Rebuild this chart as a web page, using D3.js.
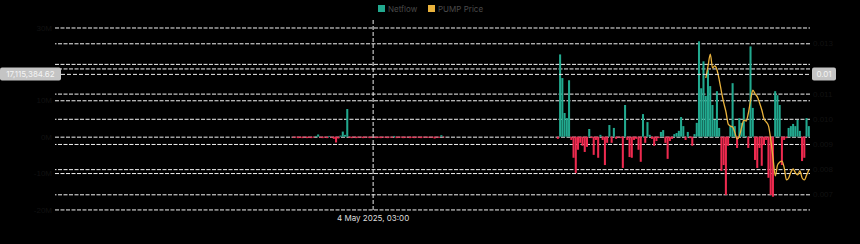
<!DOCTYPE html>
<html>
<head>
<meta charset="utf-8">
<script src="https://cdn.jsdelivr.net/npm/d3@7"></script>
<style>
    body { margin: 0; background: #000; }
    svg { display: block; font-family: Inter, "Noto Sans", sans-serif; }
</style>
</head>
<body>
<svg id="chart" width="860" height="244"></svg>
<script>
// hourly net flow (millions), two stretches of data
const earlyStart = Date.UTC(2025, 4, 2, 15);
const earlyFlow = [
    -0.3, -0.2, -0.4, -0.3, -0.4, -0.2, -0.4, -0.3, -0.4, -0.2,
    0.2, 0.6, -0.3, -0.4, -0.2, -0.4, 0.2, -0.3, -0.6, -1.6,
    -0.5, 0.3, 1.4, 0.5, 7.6, -0.3, -0.4, -0.2, -0.4, -0.3,
    -0.2, -0.4, -0.3, -0.2, -0.4, -0.3, -0.2, -0.4, -0.3, -0.4,
    -0.2, -0.3, -0.4, -0.2, -0.3, 0.2, -0.4, -0.3, -0.2, -0.4,
    -0.3, -0.2, -0.4, -0.3, -0.4, -0.2, -0.3, -0.4, -0.2, -0.3,
    -0.3, -0.2, -0.3, -0.5, -0.2, -0.3, 0.4, -0.2
];
const lateStart = Date.UTC(2025, 4, 7, 13);
const lateFlow = [
    -0.6, 22.6, 16.1, 6.5, 5.1, 15.5, -0.9, -5.8, -10.0, -3.6,
    -1.7, -2.5, -4.2, -2.8, 2.1, -0.4, -5.0, -0.9, -5.8, 0.5,
    -0.9, -7.8, -1.7, 3.2, -1.7, 2.4, -0.6, -0.1, -0.4, -8.6,
    8.7, -0.9, -5.6, -5.8, -0.9, -0.6, -3.6, -6.9, 6.2, -1.7,
    4.0, 0.5, -0.6, -2.5, -1.2, -0.4, 1.3, 1.8, -1.7, -6.1,
    -1.2, -0.6, 0.7, 1.0, 1.6, 5.4, 2.9, -0.9, 1.3, -0.4,
    -2.5, 0.7, 3.8, 26.2, 13.3, 20.7, 11.2, 18.3, 13.9, 8.7,
    4.6, 12.5, 2.4, -9.4, -7.8, -16.0, -2.5, 2.9, 14.7, 2.9,
    -3.1, 5.1, 3.8, 7.9, 0.2, -3.1, 24.8, 7.9, -6.4, -8.6,
    -3.1, -8.0, -2.3, -0.9, -11.3, -16.0, -16.5, 12.5, 11.4, 8.7,
    -7.8, -0.9, -0.4, 2.4, 2.9, 3.5, 2.9, 4.6, 1.6, -6.7,
    -5.8, 5.1, 2.9
];
// PUMP price, hourly, starts partway into the late stretch
const priceStart = Date.UTC(2025, 4, 10, 7);
const pumpPrice = [
    0.01162, 0.01210, 0.01257, 0.01202, 0.01210, 0.01194, 0.01154, 0.01106, 0.01063, 0.01027,
    0.00979, 0.00971, 0.00967, 0.00944, 0.00920, 0.00932, 0.00967, 0.00995, 0.00991, 0.01023,
    0.01075, 0.01114, 0.01099, 0.01087, 0.01063, 0.01035, 0.00999, 0.00987, 0.00971, 0.00916,
    0.00844, 0.00773, 0.00816, 0.00828, 0.00832, 0.00805, 0.00757, 0.00765, 0.00789, 0.00801,
    0.00785, 0.00777, 0.00793, 0.00765, 0.00757, 0.00777, 0.00797
];
const flowTicks = [-20, -10, 0, 10, 20, 30];
const priceTicks = [0.007, 0.008, 0.009, 0.010, 0.011, 0.012, 0.013];
const legendItems = ["Netflow", "PUMP Price"];
// crosshair readout
const crossTime = Date.UTC(2025, 4, 4, 3);
const crossFlow = 17115384.62;

const HOUR = 3600 * 1000;

let FlowChart = {
    margin: { left: 55, right: 810, top: 20, bottom: 216 },
    colors: { up: "#22a98f", down: "#ee2a4f", price: "#e9b23c", grid: "#f2f2f2" },
    svg: null,
    x: null,
    yFlow: null,
    yPrice: null,
    render: function () {
        const m = FlowChart.margin;
        FlowChart.svg = d3.select("#chart");

        FlowChart.x = d3.scaleUtc()
            .domain([Date.UTC(2025, 3, 28, 5), Date.UTC(2025, 4, 12, 6)])
            .range([m.left, m.right]);
        FlowChart.yFlow = d3.scaleLinear()
            .domain([-21.8, 32.06])
            .range([m.bottom, m.top]);
        FlowChart.yPrice = d3.scaleLinear()
            .domain([0.006138, 0.013925])
            .range([m.bottom, m.top]);

        FlowChart.renderGrid();
        FlowChart.renderBars(earlyStart, earlyFlow);
        FlowChart.renderBars(lateStart, lateFlow);
        FlowChart.renderPrice();
        FlowChart.renderCrosshair();
        FlowChart.renderLegend();
    },
    renderGrid: function () {
        const m = FlowChart.margin;
        const g = FlowChart.svg.append("g");
        const crossY = FlowChart.yFlow(crossFlow / 1e6);

        // left axis gridlines + near-black labels
        const left = g.append("g")
            .attr("transform", `translate(${m.left},0)`)
            .call(d3.axisLeft(FlowChart.yFlow)
                .tickValues(flowTicks)
                .tickSize(-(m.right - m.left))
                .tickFormat(function (d) { return d + "M"; }));
        // right axis gridlines + near-black labels
        const right = g.append("g")
            .attr("transform", `translate(${m.right},0)`)
            .call(d3.axisRight(FlowChart.yPrice)
                .tickValues(priceTicks)
                .tickSize(-(m.right - m.left))
                .tickFormat(d3.format(".3f")));

        [left, right].forEach(function (ax) {
            ax.select(".domain").remove();
            ax.selectAll(".tick line")
                .attr("stroke", FlowChart.colors.grid)
                .attr("stroke-dasharray", "4,1.5");
            ax.selectAll(".tick text")
                .attr("fill", "#121212")
                .style("font-size", "8px");
            // labels hidden under the crosshair tags
            ax.selectAll(".tick")
                .filter(function () {
                    const t = d3.select(this).attr("transform");
                    const ty = +t.split(",")[1].replace(")", "");
                    return Math.abs(ty - crossY) < 11;
                })
                .select("text").remove();
        });
    },
    renderBars: function (start, values) {
        const x = FlowChart.x, y = FlowChart.yFlow;
        const data = values.map(function (v, i) { return { t: start + i * HOUR, v: v }; });
        FlowChart.svg.append("g")
            .selectAll("rect")
            .data(data)
            .enter()
            .append("rect")
            .attr("x", function (d) { return x(d.t); })
            .attr("width", function (d) { return x(d.t + HOUR) - x(d.t) - 0.2; })
            .attr("y", function (d) { return y(Math.max(0, d.v)); })
            .attr("height", function (d) { return Math.max(0.8, Math.abs(y(d.v) - y(0))); })
            .attr("fill", function (d) { return d.v >= 0 ? FlowChart.colors.up : FlowChart.colors.down; });
    },
    renderPrice: function () {
        const x = FlowChart.x, y = FlowChart.yPrice;
        const line = d3.line()
            .x(function (d, i) { return x(priceStart + (i + 0.5) * HOUR); })
            .y(function (d) { return y(d); })
            .curve(d3.curveMonotoneX);
        FlowChart.svg.append("path")
            .datum(pumpPrice)
            .attr("d", line)
            .attr("fill", "none")
            .attr("stroke", FlowChart.colors.price)
            .attr("stroke-width", 1.3);
    },
    renderCrosshair: function () {
        const m = FlowChart.margin;
        const cx = FlowChart.x(crossTime);
        const cy = FlowChart.yFlow(crossFlow / 1e6);
        const g = FlowChart.svg.append("g");

        g.append("line")
            .attr("x1", cx).attr("x2", cx)
            .attr("y1", m.top).attr("y2", m.bottom - 4)
            .attr("stroke", "#ececec")
            .attr("stroke-dasharray", "4,2");
        g.append("line")
            .attr("x1", m.left).attr("x2", m.right)
            .attr("y1", cy).attr("y2", cy)
            .attr("stroke", "#ececec")
            .attr("stroke-dasharray", "4,2");

        // value tags on both sides
        const leftText = d3.format(",.2f")(crossFlow);
        g.append("rect")
            .attr("x", 0).attr("y", cy - 7)
            .attr("width", 61).attr("height", 13)
            .attr("rx", 2)
            .attr("fill", "#c4c4c4");
        g.append("text")
            .attr("x", 30.5).attr("y", cy + 3)
            .attr("text-anchor", "middle")
            .attr("fill", "#f4f4f4")
            .style("font-size", "8px")
            .text(leftText);

        const price = FlowChart.yPrice.invert(cy);
        g.append("rect")
            .attr("x", 812).attr("y", cy - 7)
            .attr("width", 24).attr("height", 13)
            .attr("rx", 2)
            .attr("fill", "#c4c4c4");
        g.append("text")
            .attr("x", 824).attr("y", cy + 3)
            .attr("text-anchor", "middle")
            .attr("fill", "#f4f4f4")
            .style("font-size", "8px")
            .text(d3.format(".2f")(price));

        g.append("text")
            .attr("x", cx).attr("y", 221)
            .attr("text-anchor", "middle")
            .attr("fill", "#dcdcdc")
            .style("font-size", "8px")
            .text(d3.utcFormat("%-d %B %Y, %H:%M")(crossTime));
    },
    renderLegend: function () {
        const colors = [FlowChart.colors.up, FlowChart.colors.price];
        const offsets = [378, 428];
        const g = FlowChart.svg.append("g");
        const item = g.selectAll("g")
            .data(legendItems)
            .enter()
            .append("g")
            .attr("transform", function (d, i) { return `translate(${offsets[i]},5)`; });
        item.append("rect")
            .attr("width", 7).attr("height", 7)
            .attr("fill", function (d, i) { return colors[i]; });
        item.append("text")
            .attr("x", 10).attr("y", 6.5)
            .attr("fill", "#4a4a4a")
            .style("font-size", "8px")
            .text(function (d) { return d; });
    }
};

FlowChart.render();
</script>
</body>
</html>
